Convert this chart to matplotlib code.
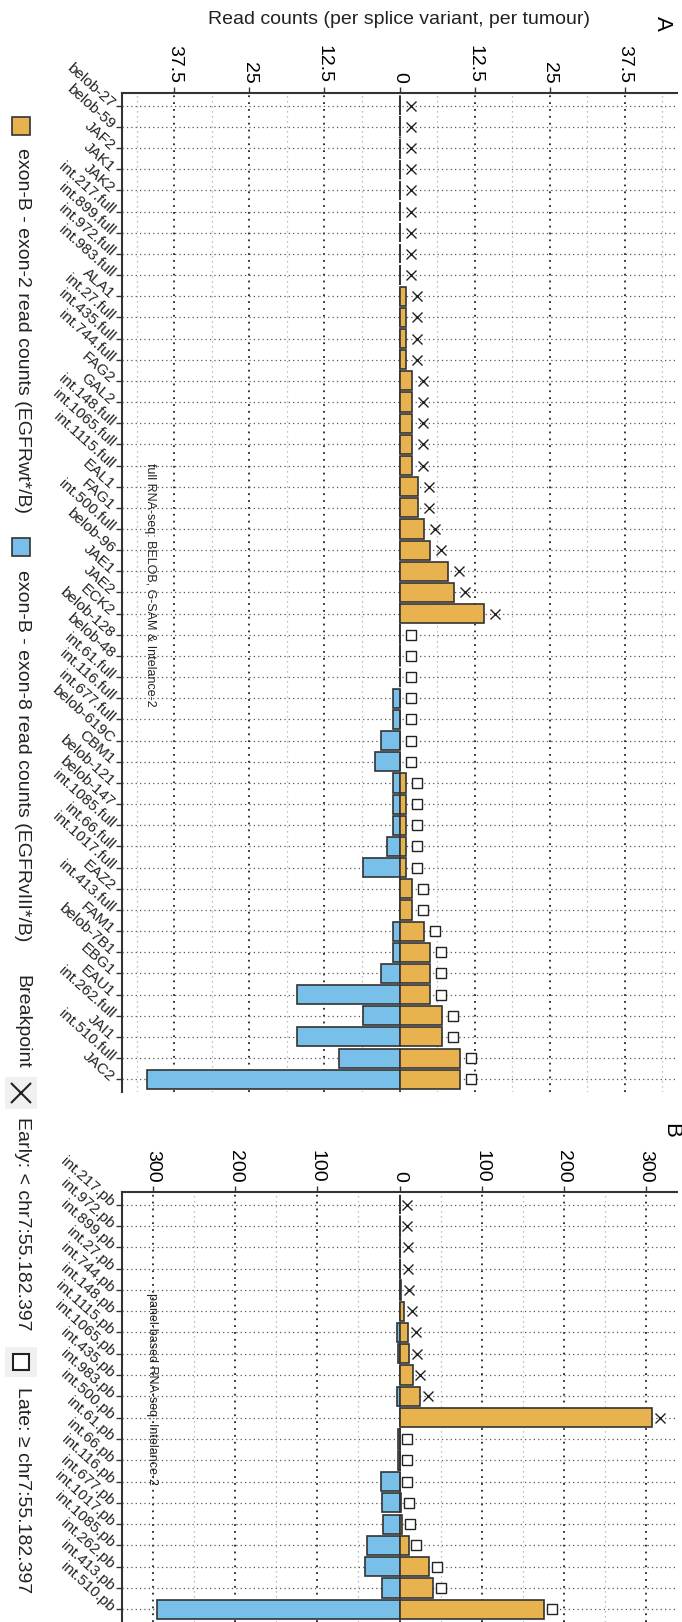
import matplotlib
matplotlib.use("Agg")
import matplotlib.pyplot as plt
import numpy as np
from matplotlib.patches import Rectangle
from matplotlib.ticker import FuncFormatter, MultipleLocator

plt.rcParams["font.family"] = ["Liberation Sans", "DejaVu Sans"]

# ── data ───────────────────────────────────────────────────────────────────────
full_samples = [
    "belob-27", "belob-59", "JAF2", "JAK1", "JAK2", "int.217.full", "int.899.full",
    "int.972.full", "int.983.full", "ALA1", "int.27.full", "int.435.full",
    "int.744.full", "FAG2", "GAL2", "int.148.full", "int.1065.full", "int.1115.full",
    "EAL1", "FAG1", "int.500.full", "belob-96", "JAE1", "JAE2", "ECK2", "belob-128",
    "belob-48", "int.61.full", "int.116.full", "int.677.full", "belob-619C", "CBM1",
    "belob-121", "belob-147", "int.1085.full", "int.66.full", "int.1017.full", "EAZ2",
    "int.413.full", "FAM1", "belob-7B1", "EBG1", "EAU1", "int.262.full", "JAI1",
    "int.510.full", "JAC2",
]
full_exon2 = [0, 0, 0, 0, 0, 0, 0, 0, 0, 1, 1, 1, 1, 2, 2, 2, 2, 2, 3, 3, 4, 5, 8, 9,
              14, 0, 0, 0, 0, 0, 0, 0, 1, 1, 1, 1, 1, 2, 2, 4, 5, 5, 5, 7, 7, 10, 10]
full_exon8 = [0, 0, 0, 0, 0, 0, 0, 0, 0, 0, 0, 0, 0, 0, 0, 0, 0, 0, 0, 0, 0, 0, 0, 0,
              0, 0, 0, 0, 1, 1, 3, 4, 1, 1, 1, 2, 6, 0, 0, 1, 1, 3, 17, 6, 17, 10, 42]
full_late = [False] * 25 + [True] * 22

panel_samples = [
    "int.217.pb", "int.972.pb", "int.899.pb", "int.27.pb", "int.744.pb", "int.148.pb",
    "int.1115.pb", "int.1065.pb", "int.435.pb", "int.983.pb", "int.500.pb", "int.61.pb",
    "int.66.pb", "int.116.pb", "int.677.pb", "int.1017.pb", "int.1085.pb", "int.262.pb",
    "int.413.pb", "int.510.pb",
]
panel_exon2 = [0, 0, 1, 1, 2, 6, 10, 12, 16, 25, 307, 0, 0, 0, 2, 3, 11, 36, 41, 176]
panel_exon8 = [0, 0, 0, 0, 0, 0, 3, 2, 0, 3, 0, 2, 2, 22, 21, 20, 39, 42, 21, 295]
panel_late = [False] * 11 + [True] * 9

ORANGE = "#E8B24F"
BLUE = "#78BFEA"
EDGE = "#333333"

W, H = 682, 1622


def px_rect(x0, y0, x1, y1):
    return [x0 / W, 1 - y1 / H, (x1 - x0) / W, (y1 - y0) / H]


def draw_panel(ax, names, ex2, ex8, late, step, offset, note, note_xy):
    y = np.arange(len(names))
    ex2 = np.array(ex2, dtype=float)
    ex8 = np.array(ex8, dtype=float)
    late = np.array(late)

    ax.barh(y, -ex8, height=0.9, color=BLUE, edgecolor=EDGE, linewidth=1.2, zorder=2)
    ax.barh(y, ex2, height=0.9, color=ORANGE, edgecolor=EDGE, linewidth=1.2, zorder=2)

    mx = ex2 + offset
    ax.plot(mx[~late], y[~late], "x", color="#222222", ms=7, mew=1.0, zorder=3)
    ax.plot(mx[late], y[late], "s", mfc="white", mec="#222222", ms=7, mew=1.0, zorder=3)

    lim = 1.1 * max(ex2.max(), ex8.max())
    ax.set_xlim(-lim, lim)
    ax.set_ylim(len(names) - 0.4, -0.6)

    ax.xaxis.tick_top()
    ax.set_xticks(np.arange(-3, 4) * step)
    ax.xaxis.set_minor_locator(MultipleLocator(step / 2))
    ax.xaxis.set_major_formatter(FuncFormatter(lambda v, p: f"{abs(v):g}"))
    ax.tick_params(axis="x", which="major", labelsize=14, labelrotation=-90,
                   length=4, width=1, color=EDGE, pad=3)
    ax.tick_params(axis="x", which="minor", length=0)

    ax.set_yticks(y)
    ax.set_yticklabels(names, rotation=-42, ha="right", va="center",
                       rotation_mode="anchor", fontsize=11, color="#222222")
    ax.tick_params(axis="y", length=4, width=1, color=EDGE, pad=3)

    ax.set_axisbelow(True)
    ax.grid(axis="x", which="major", color="#222222", linestyle=(0, (1, 2.8)), lw=1.3)
    ax.grid(axis="x", which="minor", color="#aaaaaa", linestyle=(0, (1, 3)), lw=0.9)
    ax.grid(axis="y", which="major", color="#555555", linestyle=(0, (1, 2.5)), lw=0.9)

    for side in ("right", "bottom"):
        ax.spines[side].set_visible(False)
    for side in ("top", "left"):
        ax.spines[side].set_color(EDGE)
        ax.spines[side].set_linewidth(1.5)

    ax.text(note_xy[0], note_xy[1], note, transform=ax.transAxes, rotation=-90,
            ha="center", va="top", fontsize=9, color="#222222")


fig = plt.figure(figsize=(W / 100, H / 100), dpi=100)

axA = fig.add_axes(px_rect(122, 93, 677, 1092))
draw_panel(axA, full_samples, full_exon2, full_exon8, full_late, 12.5, 1.95,
           "full RNA-seq: BELOB, G-SAM & Intelance-2", (0.05, 0.63))

axB = fig.add_axes(px_rect(122, 1192, 677, 1622))
draw_panel(axB, panel_samples, panel_exon2, panel_exon8, panel_late, 100, 9.5,
           "panel-based RNA-seq: Intelance-2", (0.054, 0.765))

fig.text(399.5 / W, 1 - 19 / H, "Read counts (per splice variant, per tumour)",
         fontsize=14, ha="center", va="center", color="#222222")
fig.text(662 / W, 1 - 23 / H, "A", rotation=-90, fontsize=16, ha="center", va="center")
fig.text(671 / W, 1 - 1130 / H, "B", rotation=-90, fontsize=16, ha="center", va="center")

# ── legend strip down the left edge ───────────────────────────────────────────
lax = fig.add_axes([0, 0, 45 / W, 1])
lax.set_xlim(0, 45)
lax.set_ylim(H, 0)
lax.axis("off")

lax.add_patch(Rectangle((12, 117), 18, 18, fc=ORANGE, ec=EDGE, lw=1.2))
lax.text(22, 148, "exon-B - exon-2 read counts (EGFRwt*/B)", rotation=-90,
         ha="center", va="top", fontsize=14, color="#222222")
lax.add_patch(Rectangle((12, 538), 18, 18, fc=BLUE, ec=EDGE, lw=1.2))
lax.text(22, 570, "exon-B - exon-8 read counts (EGFRvIII*/B)", rotation=-90,
         ha="center", va="top", fontsize=14, color="#222222")
lax.text(22, 975, "Breakpoint", rotation=-90, ha="center", va="top", fontsize=14,
         color="#222222")
lax.add_patch(Rectangle((5, 1077), 32, 32, fc="#F0F0F0", ec="none"))
lax.plot([21], [1093], "x", color="#222222", ms=14, mew=1.5)
lax.text(22, 1117, "Early: < chr7:55.182.397", rotation=-90, ha="center", va="top",
         fontsize=14, color="#222222")
lax.add_patch(Rectangle((5, 1347), 32, 30, fc="#F0F0F0", ec="none"))
lax.plot([21], [1362], "s", mfc="white", mec="#222222", ms=12, mew=1.5)
lax.text(22, 1387, "Late: \u2265 chr7:55.182.397", rotation=-90, ha="center", va="top",
         fontsize=14, color="#222222")

fig.savefig("out.png", dpi=100)
